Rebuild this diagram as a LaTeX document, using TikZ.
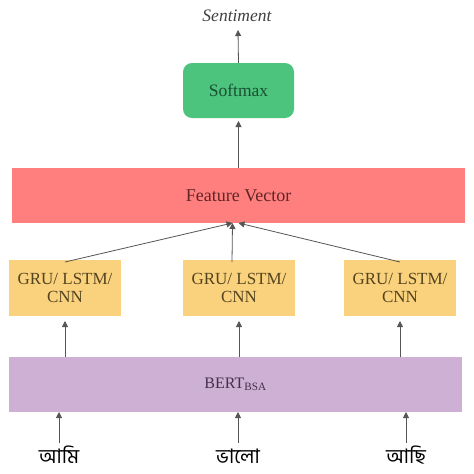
\documentclass[tikz,border=0pt]{standalone}
\usepackage{fontspec}
\setmainfont{Liberation Serif}
\newfontfamily\bnfont[Script=Bengali]{Hind Siliguri}
\usetikzlibrary{arrows.meta}
\definecolor{smfill}{HTML}{4CC47E}
\definecolor{smtext}{HTML}{1A5030}
\definecolor{fvfill}{HTML}{FF7F7F}
\definecolor{fvtext}{HTML}{602525}
\definecolor{grfill}{HTML}{FAD27E}
\definecolor{grtext}{HTML}{54441E}
\definecolor{btfill}{HTML}{CEB0D5}
\definecolor{bttext}{HTML}{45304A}
\definecolor{arr}{HTML}{555555}
\tikzset{
  x=1pt, y=-1pt,
  box/.style={inner sep=0pt, outer sep=0pt, align=center},
  conn/.style={draw=arr, line width=0.8pt, -{Triangle[length=6pt,width=6pt]}},
  txt17/.style={font=\fontsize{17.5}{20}\selectfont},
  word/.style={inner sep=0pt, anchor=base, font=\bnfont\fontsize{20}{24}\selectfont}
}
\begin{document}
\begin{tikzpicture}
\useasboundingbox (0,0) rectangle (474,474);
% Softmax
\node[box, fill=smfill, rounded corners=9pt, minimum width=111pt, minimum height=55pt, text=smtext, txt17] (sm) at (238.5,90.5) {Softmax};
\node[txt17, text=black!75, inner sep=0pt] (sent) at (237,16) {\itshape Sentiment};
\coordinate (sentb) at (238,30);
% Feature vector
\node[box, fill=fvfill, minimum width=453pt, minimum height=55pt, text=fvtext, font=\fontsize{18}{20}\selectfont] (fv) at (238.5,195.5) {Feature Vector};
% GRU boxes
\node[box, fill=grfill, minimum width=112pt, minimum height=56pt, text=grtext, font=\fontsize{17}{18.5}\selectfont] (g1) at (65,288) {GRU/ LSTM/\\CNN};
\node[box, fill=grfill, minimum width=112pt, minimum height=56pt, text=grtext, font=\fontsize{17}{18.5}\selectfont] (g2) at (239,288) {GRU/ LSTM/\\CNN};
\node[box, fill=grfill, minimum width=112pt, minimum height=56pt, text=grtext, font=\fontsize{17}{18.5}\selectfont] (g3) at (400,288) {GRU/ LSTM/\\CNN};
% BERT
\node[box, fill=btfill, minimum width=453pt, minimum height=55pt, text=bttext, font=\fontsize{16}{18}\selectfont] (bert) at (235.5,384.5) {BERT$_{\mathrm{BSA}}$};
% Bengali words
\node[word] (w1) at (59,463) {আমি};
\node[word] (w2) at (238,463) {ভালো};
\node[word] (w3) at (406,463) {আছি};
\coordinate (w1t) at (59,443);
\coordinate (w2t) at (238,443);
\coordinate (w3t) at (406,443);
% Connectors
\draw[conn] (sm.north) -- (sentb);
\draw[conn] (fv.north -| sm.south) -- ([yshift=-3pt]sm.south);
\draw[conn] ([yshift=-2pt]g1.north) -- ([xshift=-6pt]fv.south);
\draw[conn] ([xshift=-7pt,yshift=-2pt]g2.north) -- ([xshift=-6pt]fv.south);
\draw[conn] ([yshift=-2pt]g3.north) -- ([xshift=0pt]fv.south);
\draw[conn] (bert.north -| g1.south) -- ([yshift=-5pt]g1.south);
\draw[conn] (bert.north -| g2.south) -- ([yshift=-5pt]g2.south);
\draw[conn] (bert.north -| g3.south) -- ([yshift=-5pt]g3.south);
\draw[conn] (w1t) -- (w1t |- bert.south);
\draw[conn] (w2t) -- (w2t |- bert.south);
\draw[conn] (w3t) -- (w3t |- bert.south);
\end{tikzpicture}
\end{document}
